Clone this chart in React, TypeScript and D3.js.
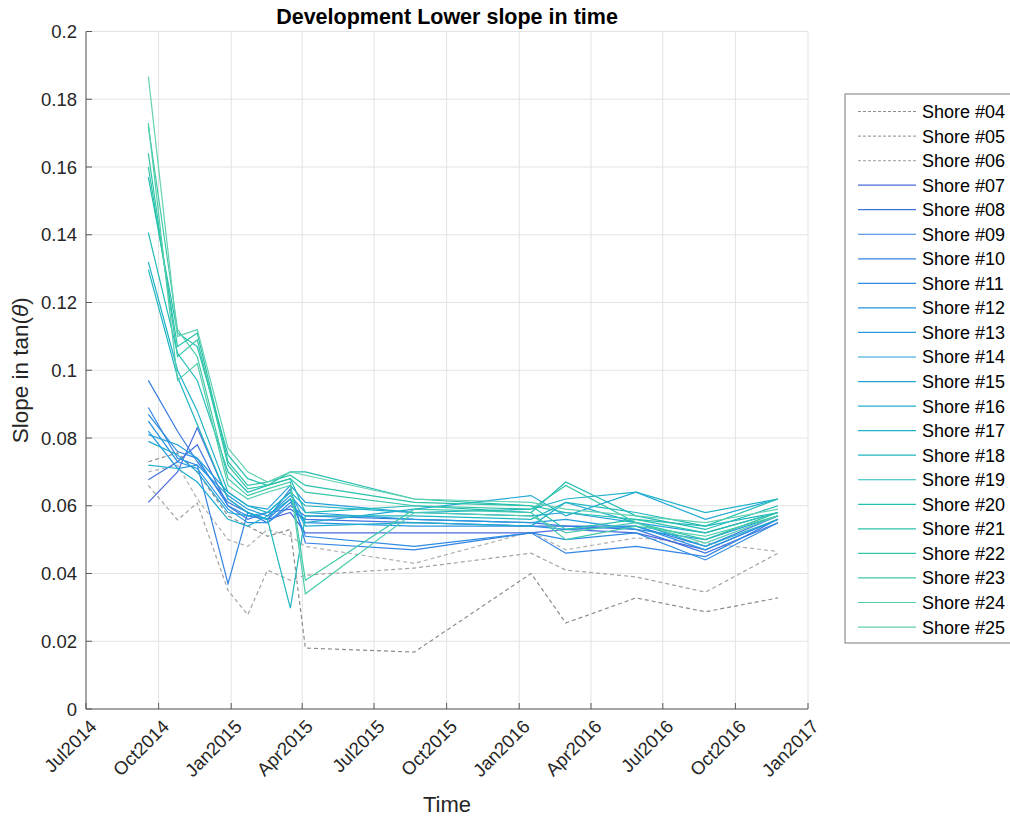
import * as d3 from 'd3';

// survey dates (same for every shore)
const surveyDates = [
  '2014-09-18', '2014-10-25', '2014-11-19', '2014-12-28', '2015-01-22', '2015-02-16',
  '2015-03-17', '2015-04-05', '2015-08-21', '2016-01-16', '2016-02-29', '2016-05-28',
  '2016-08-24', '2016-11-24',
];

// lower slope per shore, tan(theta)
const shore04 = [0.073, 0.0756, 0.070, 0.057, 0.054, 0.051, 0.053, 0.018, 0.0168, 0.040, 0.0254, 0.0328, 0.0287, 0.0328];
const shore05 = [0.066, 0.0558, 0.0608, 0.035, 0.0278, 0.041, 0.038, 0.0395, 0.0416, 0.046, 0.041, 0.039, 0.0345, 0.046];
const shore06 = [0.070, 0.072, 0.062, 0.050, 0.048, 0.053, 0.051, 0.048, 0.043, 0.0523, 0.047, 0.0505, 0.049, 0.0465];
const shore07 = [0.061, 0.070, 0.083, 0.062, 0.058, 0.056, 0.058, 0.052, 0.052, 0.052, 0.053, 0.052, 0.047, 0.056];
const shore08 = [0.0677, 0.073, 0.078, 0.060, 0.056, 0.058, 0.059, 0.056, 0.055, 0.054, 0.054, 0.053, 0.046, 0.055];
const shore09 = [0.097, 0.082, 0.073, 0.061, 0.058, 0.055, 0.060, 0.057, 0.056, 0.055, 0.054, 0.054, 0.048, 0.057];
const shore10 = [0.089, 0.074, 0.072, 0.037, 0.058, 0.056, 0.065, 0.049, 0.047, 0.052, 0.046, 0.048, 0.045, 0.056];
const shore11 = [0.087, 0.076, 0.074, 0.060, 0.057, 0.056, 0.062, 0.051, 0.048, 0.052, 0.050, 0.052, 0.044, 0.055];
const shore12 = [0.085, 0.073, 0.071, 0.059, 0.055, 0.055, 0.061, 0.055, 0.054, 0.054, 0.053, 0.054, 0.047, 0.056];
const shore13 = [0.082, 0.071, 0.072, 0.063, 0.059, 0.057, 0.063, 0.058, 0.056, 0.055, 0.056, 0.053, 0.050, 0.057];
const shore14 = [0.081, 0.078, 0.074, 0.064, 0.060, 0.059, 0.066, 0.061, 0.058, 0.057, 0.058, 0.055, 0.052, 0.058];
const shore15 = [0.079, 0.075, 0.070, 0.058, 0.057, 0.058, 0.064, 0.055, 0.059, 0.063, 0.057, 0.064, 0.056, 0.062];
const shore16 = [0.072, 0.071, 0.067, 0.056, 0.054, 0.057, 0.062, 0.054, 0.055, 0.054, 0.061, 0.055, 0.048, 0.056];
const shore17 = [0.132, 0.100, 0.088, 0.064, 0.060, 0.058, 0.064, 0.060, 0.058, 0.059, 0.062, 0.064, 0.058, 0.062];
const shore18 = [0.1297, 0.098, 0.084, 0.062, 0.058, 0.056, 0.0298, 0.057, 0.057, 0.056, 0.061, 0.058, 0.054, 0.058];
const shore19 = [0.1406, 0.105, 0.097, 0.070, 0.064, 0.066, 0.068, 0.058, 0.060, 0.058, 0.067, 0.057, 0.053, 0.060];
const shore20 = [0.157, 0.111, 0.107, 0.075, 0.068, 0.066, 0.070, 0.070, 0.062, 0.060, 0.058, 0.056, 0.054, 0.062];
const shore21 = [0.160, 0.107, 0.111, 0.073, 0.066, 0.067, 0.069, 0.066, 0.061, 0.060, 0.053, 0.056, 0.052, 0.058];
const shore22 = [0.164, 0.104, 0.109, 0.072, 0.065, 0.066, 0.068, 0.064, 0.060, 0.059, 0.066, 0.055, 0.050, 0.058];
const shore23 = [0.172, 0.112, 0.104, 0.068, 0.063, 0.065, 0.067, 0.038, 0.059, 0.058, 0.050, 0.054, 0.051, 0.057];
const shore24 = [0.173, 0.097, 0.102, 0.066, 0.062, 0.064, 0.066, 0.034, 0.058, 0.057, 0.052, 0.055, 0.049, 0.057];
const shore25 = [0.1867, 0.110, 0.112, 0.077, 0.070, 0.067, 0.070, 0.069, 0.062, 0.061, 0.059, 0.057, 0.055, 0.059];

const shoreNames = [
  'Shore #04', 'Shore #05', 'Shore #06', 'Shore #07', 'Shore #08', 'Shore #09', 'Shore #10', 'Shore #11',
  'Shore #12', 'Shore #13', 'Shore #14', 'Shore #15', 'Shore #16', 'Shore #17', 'Shore #18', 'Shore #19',
  'Shore #20', 'Shore #21', 'Shore #22', 'Shore #23', 'Shore #24', 'Shore #25',
];
const shoreValues = [
  shore04, shore05, shore06, shore07, shore08, shore09, shore10, shore11, shore12, shore13, shore14,
  shore15, shore16, shore17, shore18, shore19, shore20, shore21, shore22, shore23, shore24, shore25,
];
const dashedShores = ['Shore #04', 'Shore #05', 'Shore #06'];

const yTicks = [0, 0.02, 0.04, 0.06, 0.08, 0.1, 0.12, 0.14, 0.16, 0.18, 0.2];
const xTickDates = [
  '2014-07-01', '2014-10-01', '2015-01-01', '2015-04-01', '2015-07-01', '2015-10-01',
  '2016-01-01', '2016-04-01', '2016-07-01', '2016-10-01', '2017-01-01',
];
const xTickLabels = [
  'Jul2014', 'Oct2014', 'Jan2015', 'Apr2015', 'Jul2015', 'Oct2015',
  'Jan2016', 'Apr2016', 'Jul2016', 'Oct2016', 'Jan2017',
];

const W = 1010;
const H = 820;
const margin = { top: 31.5, right: 202, bottom: 111, left: 86 };
const font = '"Liberation Sans", Arial, Helvetica, sans-serif';

const parse = d3.utcParse('%Y-%m-%d');

export default function App() {
  const x = d3.scaleUtc()
    .domain([parse(xTickDates[0])!, parse(xTickDates[xTickDates.length - 1])!])
    .range([margin.left, W - margin.right]);
  const y = d3.scaleLinear().domain([0, 0.2]).range([H - margin.bottom, margin.top]);

  const dates = surveyDates.map((d) => parse(d)!);
  const line = d3.line<number>()
    .x((_, i) => x(dates[i]))
    .y((v) => y(v));

  // blue -> teal -> green ramp for the solid shores
  const ramp = d3.interpolateRgbBasis(['#4a6ade', '#2a88e4', '#22a4de', '#1db7c2', '#24c4a0', '#62d1b2']);
  const solidCount = shoreNames.length - dashedShores.length;
  const grays = ['#8c8c8c', '#a3a3a3', '#b0b0b0'];
  const series = shoreNames.map((name, i) => {
    const dashed = dashedShores.includes(name);
    const color = dashed ? grays[i] : ramp((i - dashedShores.length) / (solidCount - 1));
    return { name, values: shoreValues[i], dashed, color };
  });

  const x0 = margin.left;
  const x1 = W - margin.right;
  const y0 = H - margin.bottom;
  const y1 = margin.top;

  const legendX = 845;
  const legendY = 94;
  const legendRow = 24.55;

  return (
    <svg width={W} height={H} style={{ position: 'absolute', left: 0, top: 0, background: '#fff' }} fontFamily={font}>
      {/* grid */}
      <g stroke="#e3e3e3" strokeWidth={1}>
        {yTicks.map((t) => (
          <line key={'gy' + t} x1={x0} x2={x1} y1={y(t)} y2={y(t)} />
        ))}
        {xTickDates.map((d) => (
          <line key={'gx' + d} x1={x(parse(d)!)} x2={x(parse(d)!)} y1={y0} y2={y1} />
        ))}
      </g>

      {/* series */}
      <g fill="none">
        {series.map((s) => (
          <path
            key={s.name}
            d={line(s.values) || ''}
            stroke={s.color}
            strokeWidth={1.2}
            strokeDasharray={s.dashed ? '4,3' : undefined}
          />
        ))}
      </g>

      {/* axes */}
      <g stroke="#595959" strokeWidth={1}>
        <line x1={x0} x2={x0} y1={y0} y2={y1} />
        <line x1={x0} x2={x1} y1={y0} y2={y0} />
        {yTicks.map((t) => (
          <line key={'ty' + t} x1={x0} x2={x0 + 6} y1={y(t)} y2={y(t)} />
        ))}
        {xTickDates.map((d) => (
          <line key={'tx' + d} x1={x(parse(d)!)} x2={x(parse(d)!)} y1={y0} y2={y0 - 6} />
        ))}
      </g>
      <g fontSize={18.5} fill="#262626">
        {yTicks.map((t) => (
          <text key={'ly' + t} x={x0 - 9} y={y(t)} dy="0.36em" textAnchor="end">
            {d3.format('~g')(t)}
          </text>
        ))}
        {xTickDates.map((d, i) => (
          <text
            key={'lx' + d}
            transform={`translate(${x(parse(d)!) + 7},${y0 + 14}) rotate(-45)`}
            textAnchor="end"
            dy="0.36em"
          >
            {xTickLabels[i]}
          </text>
        ))}
      </g>

      {/* titles */}
      <text x={(x0 + x1) / 2} y={24} textAnchor="middle" fontSize={21.5} fontWeight="bold" fill="#000">
        Development Lower slope in time
      </text>
      <text x={(x0 + x1) / 2} y={812} textAnchor="middle" fontSize={22} fill="#262626">
        Time
      </text>
      <text
        transform={`translate(28,${(y0 + y1) / 2}) rotate(-90)`}
        textAnchor="middle"
        fontSize={22.5}
        fill="#262626"
      >
        Slope in tan(<tspan fontStyle="italic">θ</tspan>)
      </text>

      {/* legend */}
      <rect x={legendX} y={legendY} width={170} height={549} fill="#fff" stroke="#7a7a7a" strokeWidth={1} />
      {series.map((s, i) => {
        const ly = legendY + 17.5 + i * legendRow;
        return (
          <g key={'lg' + s.name}>
            <line
              x1={858}
              x2={916}
              y1={ly}
              y2={ly}
              stroke={s.color}
              strokeWidth={1.2}
              strokeDasharray={s.dashed ? '3,2' : undefined}
            />
            <text x={922} y={ly} dy="0.36em" fontSize={18} fill="#000">
              {s.name}
            </text>
          </g>
        );
      })}
    </svg>
  );
}
